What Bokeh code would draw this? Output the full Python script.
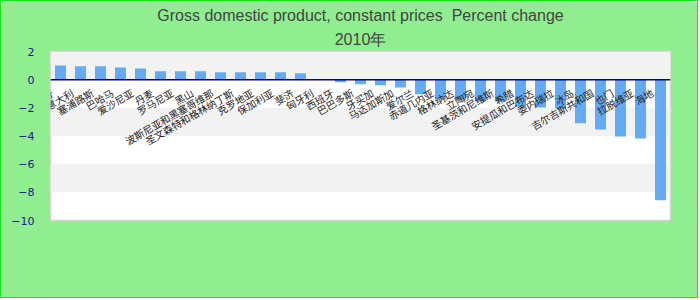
import math
from bokeh.plotting import figure
from bokeh.models import Title, Range1d, FactorRange, BoxAnnotation, Span, FixedTicker, ColumnDataSource
from bokeh.core.properties import value
from bokeh.embed import file_html
from bokeh.resources import INLINE

title_line1 = "Gross domestic product, constant prices \u00a0Percent change"
title_line2 = "2010年"

categories = [
    "葡萄牙", "意大利", "塞浦路斯", "巴哈马", "爱沙尼亚", "丹麦", "罗马尼亚", "黑山",
    "波斯尼亚和黑塞哥维那", "圣文森特和格林纳丁斯", "克罗地亚", "保加利亚", "斐济",
    "匈牙利", "西班牙", "巴巴多斯", "牙买加", "马达加斯加", "爱尔兰", "赤道几内亚",
    "格林纳达", "立陶宛", "圣基茨和尼维斯", "希腊", "安提瓜和巴布达", "委内瑞拉",
    "冰岛", "吉尔吉斯共和国", "也门", "拉脱维亚", "海地",
]
values = [
    1.0, 0.95, 0.95, 0.87, 0.8, 0.6, 0.6, 0.6,
    0.52, 0.52, 0.52, 0.52, 0.45,
    0.0, -0.18, -0.33, -0.4, -0.55, -1.04, -1.35,
    -1.4, -1.54, -1.55, -1.92, -1.97, -2.04,
    -3.1, -3.53, -4.03, -4.17, -8.57,
]
y_ticks = [2, 0, -2, -4, -6, -8, -10]
band_pairs = [(0, 2), (-4, -2), (-8, -6)]

src = ColumnDataSource(dict(cat=categories, val=values, zero=[0] * len(categories)))

p = figure(
    width=698, height=298,
    x_range=FactorRange(*categories),
    y_range=Range1d(-10, 2),
    output_backend="svg", toolbar_location=None,
    min_border_left=49, min_border_right=29, min_border_top=50, min_border_bottom=79,
)
p.styles = {"border": "1px solid #19e619"}
p.border_fill_color = "#90ee90"
p.background_fill_color = "#ffffff"
p.outline_line_color = "#d4d4d4"
p.outline_line_width = 1.5

sub = Title(text=title_line2, align="center", text_font="Liberation Sans",
            text_font_size="16px", text_font_style="normal", text_color="#444444", standoff=7)
main = Title(text=title_line1, align="center", text_font="Liberation Sans",
             text_font_size="16px", text_font_style="normal", text_color="#444444", standoff=3)
p.add_layout(sub, "above")
p.add_layout(main, "above")

for lo, hi in band_pairs:
    p.add_layout(BoxAnnotation(bottom=lo, top=hi, fill_color="#f2f2f2", fill_alpha=1.0,
                               line_color=None, level="underlay"))

p.xgrid.visible = False
p.ygrid.visible = False
p.xaxis.visible = False

p.yaxis.ticker = FixedTicker(ticks=y_ticks)
p.yaxis.axis_line_color = None
p.yaxis.major_tick_line_color = None
p.yaxis.minor_tick_line_color = None
p.yaxis.major_label_text_color = "#1a1a8c"
p.yaxis.major_label_text_font = "DejaVu Sans"
p.yaxis.major_label_text_font_size = "11px"
p.yaxis.major_label_standoff = 10

p.vbar(x="cat", top="val", bottom=0, width=0.55, source=src,
       fill_color="#63abf4", line_color=None)

p.add_layout(Span(location=0, dimension="width", line_color="#00008b", line_width=1.5))

p.text(x="cat", y="zero", text="cat", source=src, angle=math.radians(30),
       text_align="right", text_baseline="middle", x_offset=-8, y_offset=12,
       text_font=value("Noto Sans CJK SC"), text_font_size="10px", text_color="#222222")

open("out.html", "w").write(file_html(p, INLINE))
